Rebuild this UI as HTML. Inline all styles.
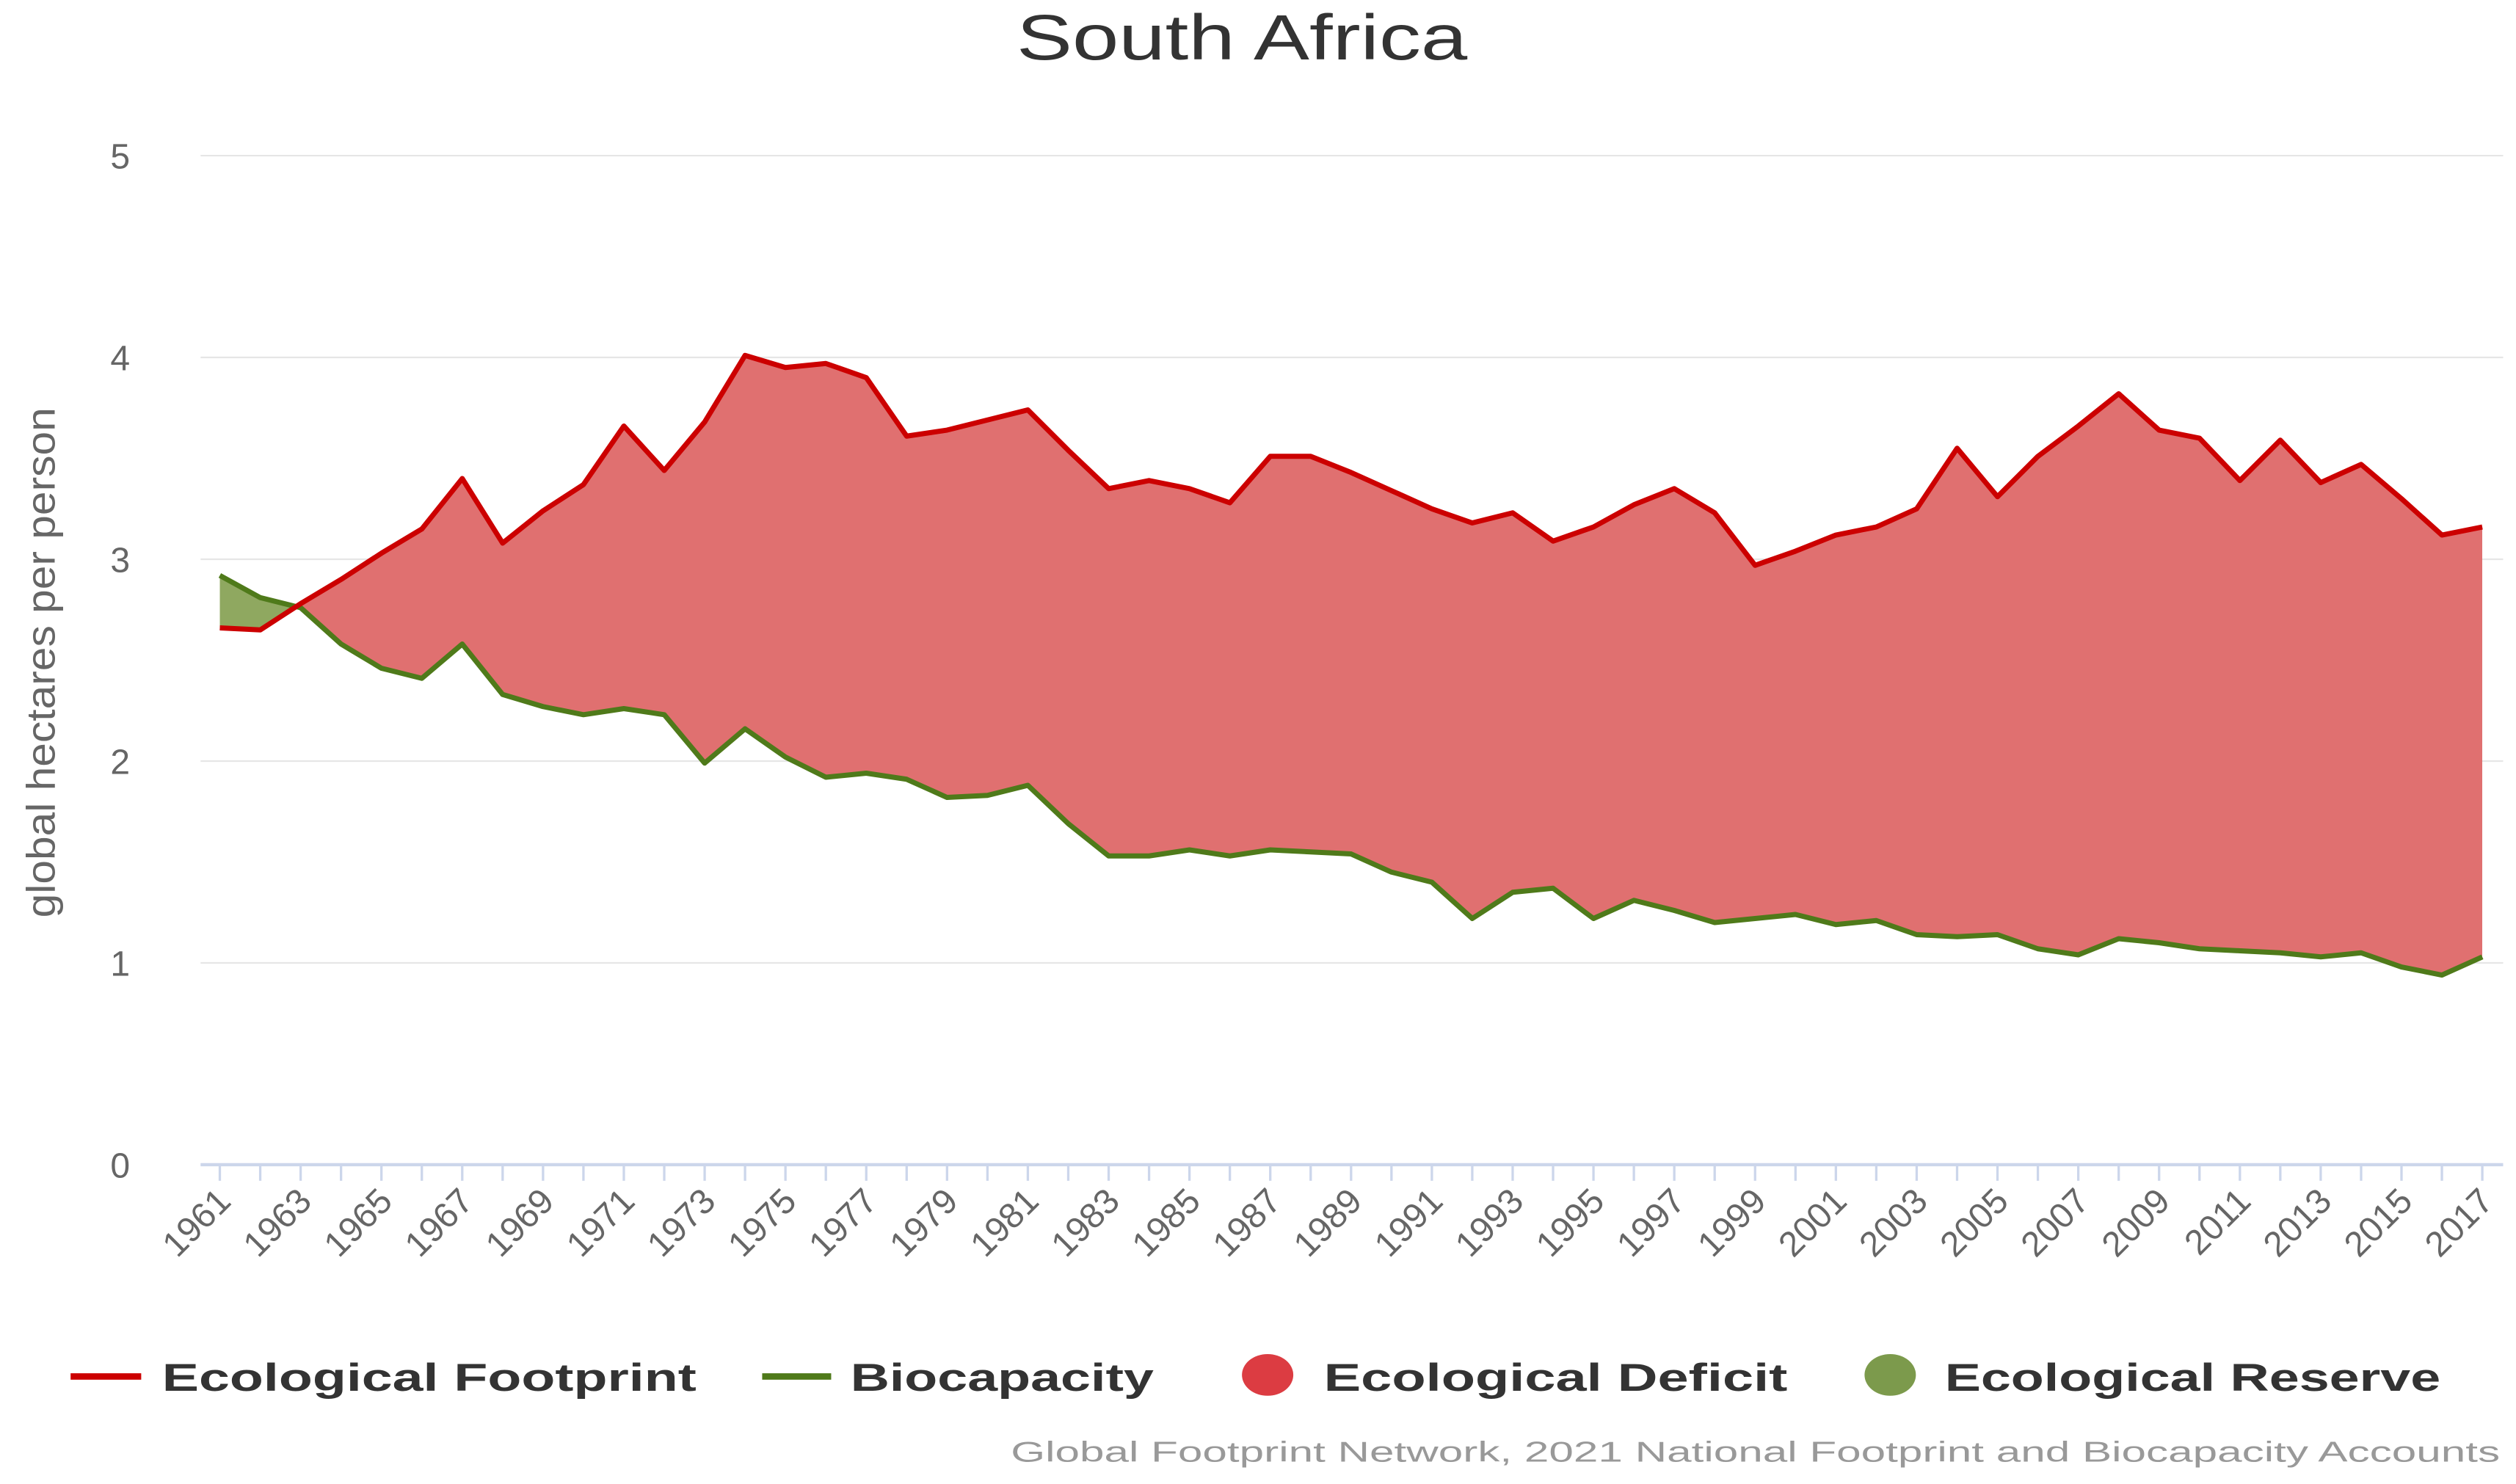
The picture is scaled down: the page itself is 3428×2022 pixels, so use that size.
<!DOCTYPE html>
<html><head><meta charset="utf-8"><style>
html,body{margin:0;padding:0;background:#fff;}
svg{display:block;font-family:"Liberation Sans",sans-serif;}
</style></head><body>
<svg id="chart" width="3428" height="2022" viewBox="0 0 1568 925" preserveAspectRatio="none" xmlns="http://www.w3.org/2000/svg">
<defs>
<clipPath id="clipBelowEF"><path id="cEF" d=""/></clipPath>
<clipPath id="clipAboveBC"><path id="cBCa" d=""/></clipPath>
<clipPath id="clipBelowBC"><path id="cBC" d=""/></clipPath>
<clipPath id="clipAboveEF"><path id="cEFa" d=""/></clipPath>
</defs>
<text x="774" y="37" text-anchor="middle" font-size="40" fill="#333" textLength="281" lengthAdjust="spacingAndGlyphs">South Africa</text>
<g id="grid"></g>
<g id="areas"></g>
<g id="lines"></g>
<g id="xaxis"></g>
<text transform="translate(34,413) rotate(-90)" text-anchor="middle" font-size="25" fill="#666" textLength="318" lengthAdjust="spacingAndGlyphs">global hectares per person</text>
<g font-size="24" font-weight="bold" fill="#333">
<g><line x1="44" y1="858" x2="88" y2="858" stroke="#cc0000" stroke-width="4"/><text x="101" y="867" textLength="333" lengthAdjust="spacingAndGlyphs">Ecological Footprint</text></g>
<g><line x1="475" y1="858" x2="518" y2="858" stroke="#4f7a1a" stroke-width="4"/><text x="530" y="867" textLength="189" lengthAdjust="spacingAndGlyphs">Biocapacity</text></g>
<g><ellipse cx="790" cy="857" rx="16" ry="13" fill="#dc3c42"/><text x="825" y="867" textLength="289" lengthAdjust="spacingAndGlyphs">Ecological Deficit</text></g>
<g><ellipse cx="1178" cy="857" rx="16" ry="13" fill="#7c9a4c"/><text x="1212" y="867" textLength="309" lengthAdjust="spacingAndGlyphs">Ecological Reserve</text></g>
</g>
<text x="1558" y="911" text-anchor="end" font-size="18" fill="#999" textLength="928" lengthAdjust="spacingAndGlyphs">Global Footprint Network, 2021 National Footprint and Biocapacity Accounts</text>
</svg>
<script>
const years=[];for(let y=1961;y<=2017;y++)years.push(y);
const footprint=[2.66,2.65,2.78,2.90,3.03,3.15,3.40,3.08,3.24,3.37,3.66,3.44,3.68,4.01,3.95,3.97,3.90,3.61,3.64,3.69,3.74,3.54,3.35,3.39,3.35,3.28,3.51,3.51,3.43,3.34,3.25,3.18,3.23,3.09,3.16,3.27,3.35,3.23,2.97,3.04,3.12,3.16,3.25,3.55,3.31,3.51,3.66,3.82,3.64,3.60,3.39,3.59,3.38,3.47,3.30,3.12,3.16];
const biocapacity=[2.92,2.81,2.76,2.58,2.46,2.41,2.58,2.33,2.27,2.23,2.26,2.23,1.99,2.16,2.02,1.92,1.94,1.91,1.82,1.83,1.88,1.69,1.53,1.53,1.56,1.53,1.56,1.55,1.54,1.45,1.40,1.22,1.35,1.37,1.22,1.31,1.26,1.20,1.22,1.24,1.19,1.21,1.14,1.13,1.14,1.07,1.04,1.12,1.10,1.07,1.06,1.05,1.03,1.05,0.98,0.94,1.03];
const yTicks=[0,1,2,3,4,5];
const NS="http://www.w3.org/2000/svg";
const X0=137,X1=1547,Y0=726,Y5=97;
const xs=i=>X0+(X1-X0)*(years[i]-years[0])/(years[years.length-1]-years[0]);
const ys=v=>Y0-(Y0-Y5)*v/5;
function mk(tag,attrs,parent){const e=document.createElementNS(NS,tag);for(const k in attrs)e.setAttribute(k,attrs[k]);parent.appendChild(e);return e;}
const grid=document.getElementById('grid');
yTicks.forEach(t=>{
 if(t>0){const l=mk('line',{x1:125,x2:1560,y1:ys(t),y2:ys(t),stroke:'#e6e6e6','stroke-width':1},grid);
 
 }
 const tx=mk('text',{x:81,y:ys(t)+8,'text-anchor':'end','font-size':22,fill:'#666'},grid);
 
 
 tx.textContent=t;
});
const xa=document.getElementById('xaxis');
const ax=mk('line',{x1:125,x2:1560,y1:Y0,y2:Y0,stroke:'#ccd6eb','stroke-width':2},xa);


years.forEach((y,i)=>{
 const t=mk('line',{x1:xs(i),x2:xs(i),y1:Y0,y2:Y0+10,stroke:'#ccd6eb','stroke-width':1.5},xa);
 
 
 if(i%2===0){
  const tx=mk('text',{transform:`translate(${xs(i)+8},${Y0+24}) rotate(-45)`,'text-anchor':'end','font-size':22,fill:'#666'},xa);
  
  
  tx.textContent=y;
 }
});
const pts=a=>a.map((v,i)=>xs(i).toFixed(2)+','+ys(v).toFixed(2));
const efp=pts(footprint), bcp=pts(biocapacity);
const xL=xs(0),xR=xs(years.length-1);
document.getElementById('cEF').setAttribute('d','M'+efp.join(' L')+` L${xR},${Y0+5} L${xL},${Y0+5}Z`);
document.getElementById('cEFa').setAttribute('d','M'+efp.join(' L')+` L${xR},0 L${xL},0Z`);
document.getElementById('cBC').setAttribute('d','M'+bcp.join(' L')+` L${xR},${Y0+5} L${xL},${Y0+5}Z`);
document.getElementById('cBCa').setAttribute('d','M'+bcp.join(' L')+` L${xR},0 L${xL},0Z`);
const areas=document.getElementById('areas');
const between='M'+efp.join(' L')+' L'+bcp.slice().reverse().join(' L')+'Z';
const gd=mk('g',{'clip-path':'url(#clipAboveBC)'},areas);
const deficit=mk('path',{d:between,fill:'#e07070','clip-path':'url(#clipBelowEF)'},gd);


const gr=mk('g',{'clip-path':'url(#clipAboveEF)'},areas);
const reserve=mk('path',{d:between,fill:'#8fa860','clip-path':'url(#clipBelowBC)'},gr);


const lines=document.getElementById('lines');
const bl=mk('polyline',{points:bcp.join(' '),fill:'none',stroke:'#4f7a1a','stroke-width':3.2,'stroke-linejoin':'round'},lines);


const el=mk('polyline',{points:efp.join(' '),fill:'none',stroke:'#cc0000','stroke-width':3.2,'stroke-linejoin':'round'},lines);


</script>
</body></html>
